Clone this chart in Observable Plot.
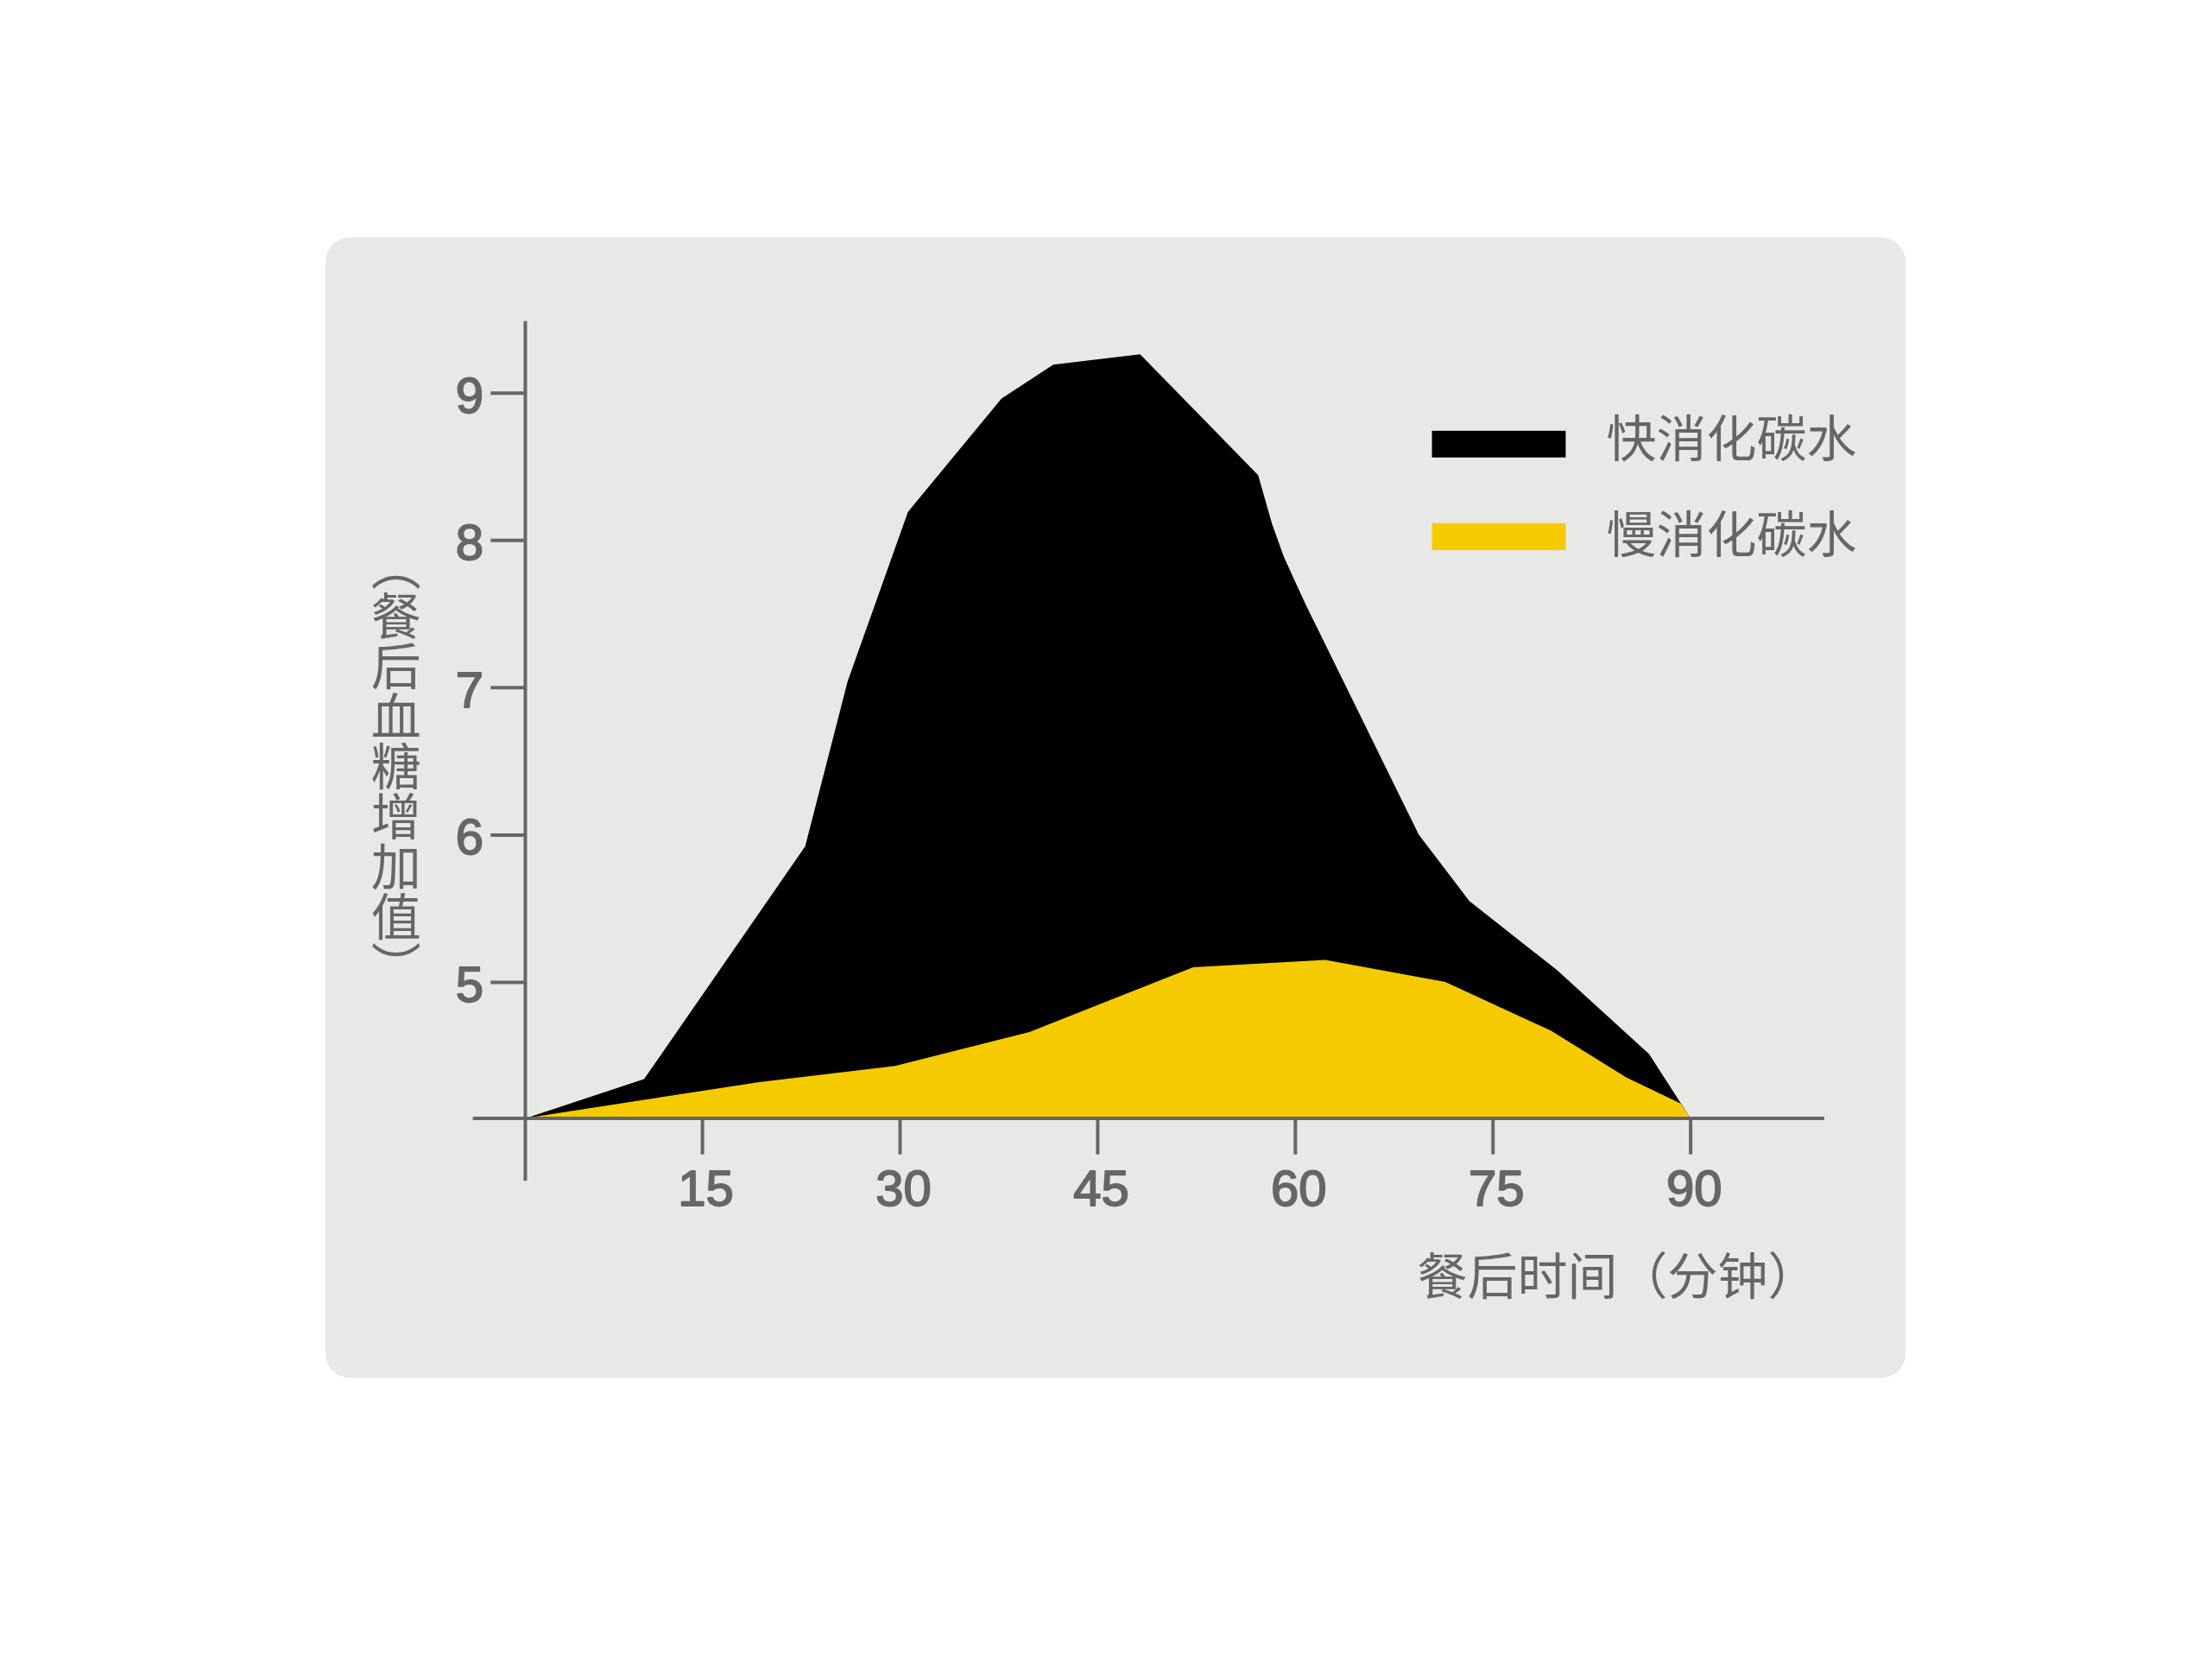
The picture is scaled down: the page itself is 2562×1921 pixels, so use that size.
<!DOCTYPE html>
<html>
<head>
<meta charset="utf-8">
<script src="https://cdn.jsdelivr.net/npm/d3@7"></script>
<script src="https://cdn.jsdelivr.net/npm/@observablehq/plot@0.6"></script>
<style>
  html, body { margin: 0; padding: 0; background: #ffffff; }
  #chart svg { display: block; }
</style>
</head>
<body>
<div id="chart"></div>
<script>
// ---- data (minutes after meal, blood glucose increase) ----
const fastMinutes = [1.69, 10.6, 22.83, 26.05, 30.63, 37.73, 41.66, 48.25, 57.21, 58.26, 59.14, 60.0, 60.88, 69.4, 73.23, 79.89, 86.88, 90.0];
const fastGlucose = [4.077, 4.34, 5.92, 7.04, 8.19, 8.96, 9.19, 9.26, 8.44, 8.11, 7.89, 7.72, 7.55, 6.0, 5.55, 5.08, 4.51, 4.077];
const slowMinutes = [1.69, 19.36, 29.66, 39.85, 52.28, 62.3, 71.41, 79.41, 85.17, 89.27, 90.0];
const slowGlucose = [4.077, 4.32, 4.43, 4.66, 5.10, 5.15, 5.00, 4.67, 4.35, 4.175, 4.077];
const xTicks = [15, 30, 45, 60, 75, 90];
const yTicks = [5, 6, 7, 8, 9];
const seriesNames = ["快消化碳水", "慢消化碳水"];
const seriesColors = ["#000000", "#f5cb00"];
const xTitle = "餐后时间（分钟）";
const yTitle = "（餐后血糖增加值）";

const baseline = 4.077;
const fast = fastMinutes.map((m, i) => ({m, v: fastGlucose[i]}));
const slow = slowMinutes.map((m, i) => ({m, v: slowGlucose[i]}));
const legend = seriesNames.map((name, i) => ({name, color: seriesColors[i]}));

const grey = "#666666";
const numFont = "Liberation Sans, Arial, sans-serif";
const cjkFont = "Noto Sans CJK SC, sans-serif";

const svg = Plot.plot({
  width: 2562,
  height: 1921,
  marginLeft: 376.5,
  marginRight: 355.3,
  marginTop: 274.5,
  marginBottom: 326,
  x: {domain: [-13.61, 106.32], axis: null},
  y: {domain: [2.315, 10.056], axis: null},
  marks: [
    Plot.frame({fill: "#e8e8e6", stroke: "none", rx: 28}),
    Plot.areaY(fast, {x: "m", y1: baseline, y2: "v", fill: seriesColors[0]}),
    Plot.areaY(slow, {x: "m", y1: baseline, y2: "v", fill: seriesColors[1]}),
    // axis lines
    Plot.ruleY([baseline], {x1: -2.395, x2: 100.17, stroke: grey, strokeWidth: 4}),
    Plot.ruleX([1.556], {y1: 3.65, y2: 9.486, stroke: grey, strokeWidth: 4}),
    // ticks
    Plot.ruleX(xTicks, {x: d => d, y1: baseline, y2: 3.829, stroke: grey, strokeWidth: 4}),
    Plot.ruleY(yTicks, {y: d => d, x1: -1.045, x2: 1.556, stroke: grey, strokeWidth: 4}),
    // tick labels
    Plot.text(xTicks, {x: d => d, y: 3.593, text: d => String(d), dx: 4, fontSize: 58, fill: grey, stroke: grey, strokeWidth: 1.8, fontFamily: numFont}),
    Plot.text(yTicks, {x: -1.62, y: d => d, text: d => String(d), textAnchor: "end", dy: 4, fontSize: 58, fill: grey, stroke: grey, strokeWidth: 1.8, fontFamily: numFont}),
    // axis titles
    Plot.text([xTitle], {x: 69.25, y: 2.99, text: d => d, textAnchor: "start", fontSize: 58, fill: grey, fontFamily: cjkFont}),
    Plot.text([yTitle], {x: -8.25, y: 6.58, text: d => d, fontSize: 58, fill: grey, fontFamily: cjkFont}),
    // legend
    Plot.rect(legend, {x1: 70.40, x2: 80.55, y1: (d, i) => 8.741 - i * 0.627, y2: (d, i) => 8.560 - i * 0.629, fill: d => d.color}),
    Plot.text(legend, {x: 83.6, y: (d, i) => 8.675 - i * 0.65, text: "name", textAnchor: "start", fontSize: 58, fill: grey, fontFamily: cjkFont})
  ]
});

// vertical y-axis title
d3.select(svg).selectAll("text")
  .filter(function() { return this.textContent === yTitle; })
  .attr("dy", null)
  .style("writing-mode", "vertical-rl")
  .style("text-orientation", "upright")
  .style("text-anchor", "middle");

document.getElementById("chart").appendChild(svg);
</script>
</body>
</html>
